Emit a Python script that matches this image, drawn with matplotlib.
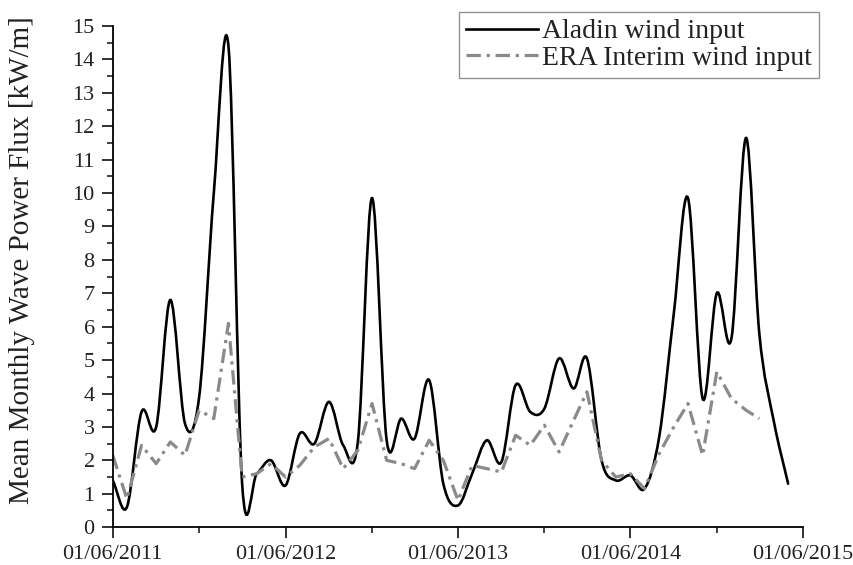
import numpy as np
import pandas as pd
import matplotlib
matplotlib.use("Agg")
import matplotlib.pyplot as plt
import matplotlib.dates as mdates
from matplotlib.path import Path
from matplotlib.patches import PathPatch
from matplotlib.lines import Line2D
from matplotlib.ticker import MultipleLocator

plt.rcParams['font.family'] = ['Liberation Serif', 'DejaVu Serif']

# monthly mean wave power flux [kW/m], Jun 2011 onwards
aladin_months = pd.date_range("2011-06-01", periods=48, freq="MS")
aladin = [1.4, 0.6, 3.45, 3.0, 6.8, 3.1, 3.9, 10.0, 14.4, 1.3, 1.6, 2.0,
          1.25, 2.8, 2.5, 3.75, 2.45, 2.55, 9.85, 2.6, 3.25, 2.65, 4.4, 1.3,
          0.65, 1.6, 2.6, 1.95, 4.25, 3.45, 3.55, 5.05, 4.15, 5.05, 2.0, 1.4,
          1.55, 1.15, 2.7, 6.4, 9.85, 3.85, 7.0, 5.65, 11.65, 5.8, 3.15, 1.3]

era_months = pd.date_range("2011-06-01", periods=46, freq="MS")
era = [2.15, 0.85, 2.45, 1.9, 2.55, 2.15, 3.5, 3.25, 6.1, 1.5, 1.6, 1.9,
       1.5, 1.85, 2.4, 2.65, 1.75, 2.3, 3.7, 2.0, 1.9, 1.75, 2.6, 2.0,
       0.8, 1.85, 1.75, 1.65, 2.75, 2.45, 3.05, 2.25, 3.2, 4.05, 2.0, 1.5,
       1.6, 1.15, 2.2, 3.0, 3.7, 2.15, 4.65, 3.85, 3.5, 3.25]

labels = ["Aladin wind input", "ERA Interim wind input"]
x_start, x_end = "2011-06-01", "2015-06-01"


def spline_path(x, y):
    """Catmull-Rom style smooth curve through the points, as Bezier segments."""
    x = np.asarray(x, float)
    y = np.asarray(y, float)
    n = len(x)
    h = np.diff(x)
    d = np.empty(n)
    d[1:-1] = (y[2:] - y[:-2]) / (x[2:] - x[:-2])
    d[0] = (y[1] - y[0]) / h[0]
    d[-1] = (y[-1] - y[-2]) / h[-1]
    verts = [(x[0], y[0])]
    codes = [Path.MOVETO]
    for i in range(n - 1):
        verts += [(x[i] + h[i] / 3, y[i] + d[i] * h[i] / 3),
                  (x[i + 1] - h[i] / 3, y[i + 1] - d[i + 1] * h[i] / 3),
                  (x[i + 1], y[i + 1])]
        codes += [Path.CURVE4] * 3
    return Path(verts, codes)


fig = plt.figure(figsize=(8.54, 5.65), dpi=100)
ax = fig.add_axes([0.132, 0.067, 0.808, 0.887])

xa = mdates.date2num(aladin_months)
ax.add_patch(PathPatch(spline_path(xa, aladin), facecolor='none',
                       edgecolor='black', lw=1.9, capstyle='round'))
ax.plot(era_months, era, color='#8a8a8a', lw=2.3, dashes=(4.5, 1.8, 1.0, 1.8))

ax.set_xlim(pd.Timestamp(x_start), pd.Timestamp(x_end))
ax.set_ylim(0, 15)

ax.xaxis.set_major_locator(mdates.MonthLocator(bymonth=6, bymonthday=1))
ax.xaxis.set_minor_locator(mdates.MonthLocator(bymonth=12, bymonthday=1))
ax.xaxis.set_major_formatter(mdates.DateFormatter('%d/%m/%Y'))
ax.yaxis.set_major_locator(MultipleLocator(1))
ax.yaxis.set_minor_locator(MultipleLocator(0.5))

for s in ['top', 'right']:
    ax.spines[s].set_visible(False)
for s in ['left', 'bottom']:
    ax.spines[s].set_linewidth(1.3)

ax.tick_params(which='major', direction='out', length=8, width=1.3,
               labelsize=16, pad=5, colors='#222222')
ax.tick_params(which='minor', direction='out', length=4.5, width=1.2,
               colors='#222222')
ax.set_ylabel("Mean Monthly Wave Power Flux [kW/m]", fontsize=21,
              color='#222222')
ax.yaxis.set_label_coords(-0.112, 0.533)

handles = [Line2D([], [], color='black', lw=1.9),
           Line2D([], [], color='#8a8a8a', lw=2.3, dashes=(4.5, 1.8, 1.0, 1.8))]
leg = fig.legend(handles, labels, loc='upper right',
                 bbox_to_anchor=(0.959, 0.979), bbox_transform=fig.transFigure,
                 fontsize=20, frameon=True, fancybox=False, borderaxespad=0,
                 borderpad=0.25, labelspacing=0.05, handlelength=2.6,
                 handletextpad=0.15)
leg.get_frame().set_edgecolor('#777777')
leg.get_frame().set_linewidth(1.0)
for t in leg.get_texts():
    t.set_color('#222222')

fig.savefig("out.png", dpi=100)
